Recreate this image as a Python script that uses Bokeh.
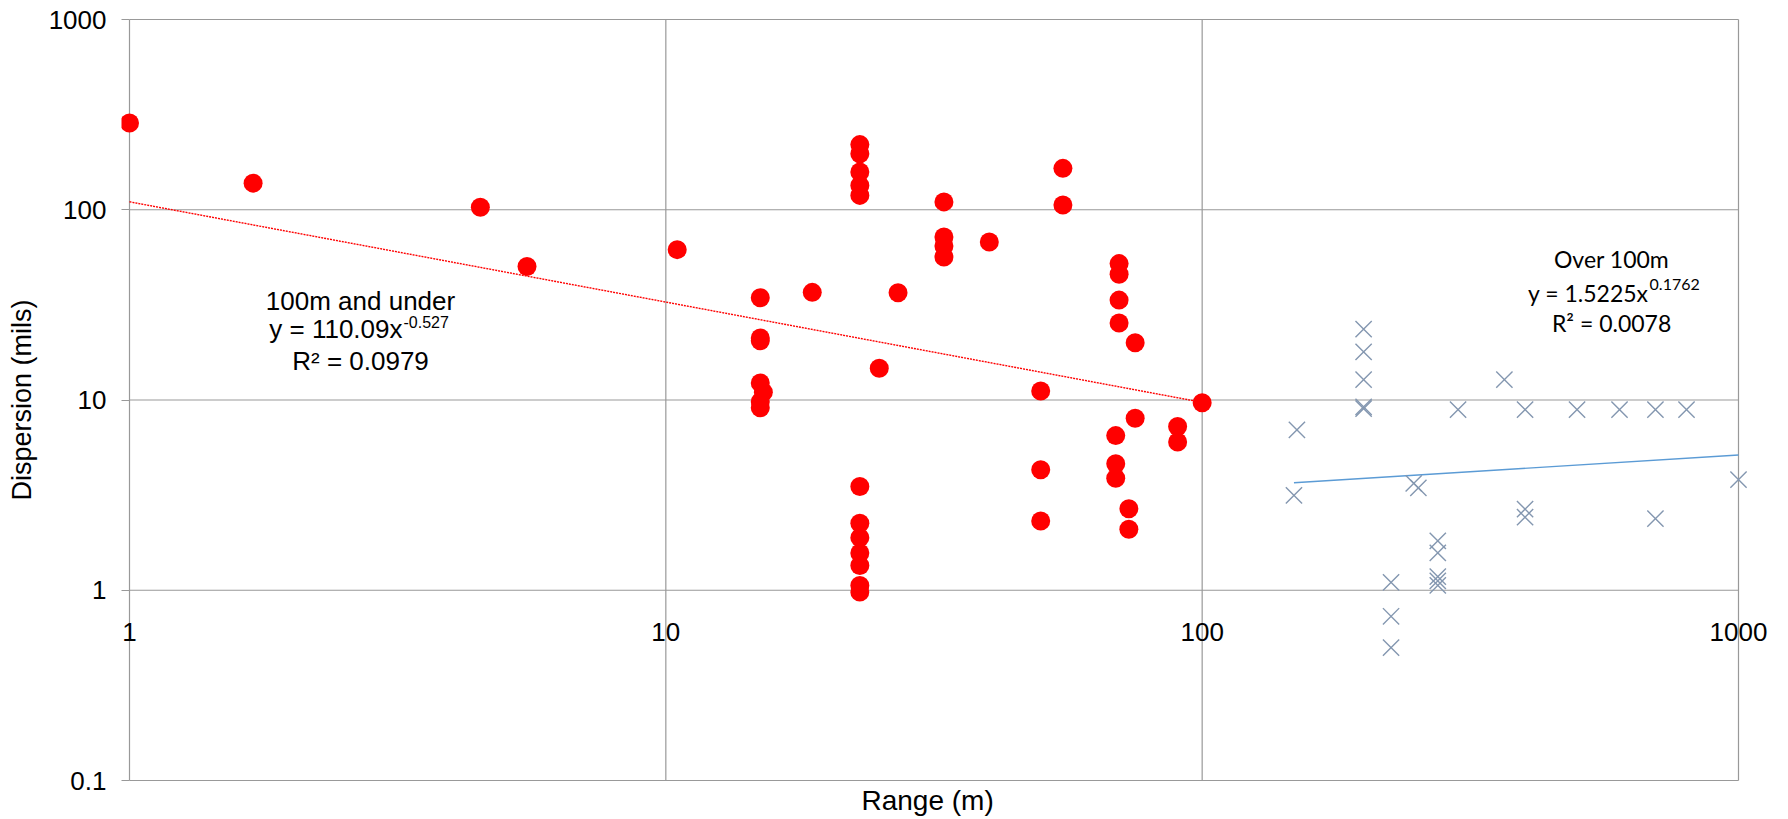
from bokeh.plotting import figure
from bokeh.models import (Range1d, FixedTicker, Label, CustomJSTickFormatter, Title)
from bokeh.embed import file_html
from bokeh.resources import INLINE

# ---------------- data ----------------
red_x = [1, 1.70, 4.51, 5.51, 10.5,
         15, 15, 15, 15, 15.2, 15, 15,
         18.75, 27.1, 25.0,
         23, 23, 23, 23, 23, 23, 23, 23, 23, 23, 23, 23,
         33, 33, 33, 33,
         40.1,
         55, 55,
         50, 50, 50,
         70, 70, 70, 70,
         75, 75,
         69, 69, 69,
         73, 73,
         90, 90,
         100]
red_y = [286, 138, 103, 50.3, 61.7,
         34.5, 21.2, 20.5, 12.3, 11.0, 9.8, 9.1,
         36.8, 36.6, 14.7,
         220, 197, 158, 134, 119, 3.51, 2.25, 1.89, 1.57, 1.35, 1.06, 0.98,
         110, 71.9, 64.5, 56.4,
         67.7,
         165, 106,
         11.15, 4.30, 2.31,
         52.1, 45.8, 33.5, 25.4,
         20.0, 8.01,
         6.50, 4.62, 3.88,
         2.68, 2.09,
         7.25, 6.02,
         9.68]

blue_x = [148.3, 150.2, 200, 200, 200, 200, 200, 225, 225, 225, 248, 253,
          275, 275, 275, 275, 275, 300, 366, 400, 400, 400, 500, 600, 700, 700, 800, 1000]
blue_y = [3.15, 6.96, 23.6, 17.9, 12.8, 9.2, 9.0, 1.10, 0.73, 0.50, 3.65, 3.45,
          1.82, 1.57, 1.18, 1.12, 1.06, 8.9, 12.8, 8.9, 2.67, 2.42, 8.9, 8.9, 8.9, 2.38, 8.9, 3.81]

# trendline coefficients (y = a * x^b) as printed on the chart
red_a, red_b = 110.09, -0.527
blue_a, blue_b = 1.5225, 0.1762

x_ticks = [1, 10, 100, 1000]
x_labels = ["1", "10", "100", "1000"]
y_ticks = [0.1, 1, 10, 100, 1000]
y_labels = ["0.1", "1", "10", "100", "1000"]
x_cross = 1  # the horizontal axis crosses the vertical one at y = 1
x_min, x_max = 1, 1000
y_min, y_max = 0.1, 1000

# ---------------- style ----------------
GRID = "#999999"
RED = "#ff0000"
BLUE_X = "#8497b0"
BLUE_LINE = "#5b9bd5"
FONT = "Liberation Sans"
FONT2 = "Lato"

W, H = 1788, 819
DEC_X, DEC_Y = 536.3, 190.25      # pixels per decade
PAD_L, PAD_R, PAD_TB = 8, 32, 2   # room (px) around the plotted area so edge marks/labels are not cut
FRAME_L = 121 + PAD_L             # pixel position of x = 1
FRAME_T = 17 + PAD_TB             # pixel position of y = 1000


def at_px(px, py):
    return 10 ** ((px - FRAME_L) / DEC_X), 10 ** (3 - (py - FRAME_T) / DEC_Y)


p = figure(width=W, height=H, x_axis_type="log", y_axis_type="log",
           x_range=Range1d(x_min * 10 ** (-PAD_L / DEC_X), x_max * 10 ** (PAD_R / DEC_X)),
           y_range=Range1d(y_min * 10 ** (-PAD_TB / DEC_Y), y_max * 10 ** (PAD_TB / DEC_Y)),
           output_backend="svg", toolbar_location=None,
           min_border_left=121, min_border_right=W - 121 - round((3 * DEC_X) + PAD_L + PAD_R),
           min_border_top=17, min_border_bottom=H - 17 - round(4 * DEC_Y + 2 * PAD_TB))
p.background_fill_color = "white"
p.border_fill_color = "white"
p.outline_line_color = None
p.xgrid.visible = False
p.ygrid.visible = False

# grid lines / plot-area border limited to the 1..1000 x 0.1..1000 box
p.segment(x0=[x_min] * len(y_ticks), x1=[x_max] * len(y_ticks), y0=y_ticks, y1=y_ticks,
          line_color=GRID, line_width=1.2)
p.segment(x0=x_ticks, x1=x_ticks, y0=[y_min] * len(x_ticks), y1=[y_max] * len(x_ticks),
          line_color=GRID, line_width=1.2)

# y axis
p.yaxis.ticker = FixedTicker(ticks=y_ticks)
p.yaxis.formatter = CustomJSTickFormatter(
    args=dict(t=y_ticks, l=y_labels),
    code="""
    for (let i = 0; i < t.length; i++) {
        if (Math.abs(Math.log10(tick) - Math.log10(t[i])) < 1e-6) { return l[i]; }
    }
    return String(tick);
    """)
p.yaxis.major_label_text_font = FONT
p.yaxis.major_label_text_font_size = "26px"
p.yaxis.major_label_text_color = "black"
p.yaxis.major_tick_out = 0
p.yaxis.major_tick_in = PAD_L
p.yaxis.minor_tick_out = 0
p.yaxis.minor_tick_in = 0
p.yaxis.major_tick_line_color = GRID
p.yaxis.major_tick_line_width = 1.2
p.yaxis.axis_line_color = None
p.yaxis.major_label_standoff = 15
p.yaxis.axis_label = "Dispersion (mils)"
p.yaxis.axis_label_text_font = FONT
p.yaxis.axis_label_text_font_size = "27px"
p.yaxis.axis_label_text_font_style = "normal"
p.yaxis.axis_label_text_color = "black"
p.yaxis.axis_label_standoff = 9

# x axis: the horizontal axis crosses at y = 1, so its labels are drawn there
p.xaxis.visible = False
xtitle = Title(text="Range (m)", align="left", text_font=FONT, text_font_size="28px",
               text_font_style="normal", text_color="black", standoff=0, offset=740)
p.add_layout(xtitle, "below")

for xv, lab in zip(x_ticks, x_labels):
    p.add_layout(Label(x=xv, y=x_cross, y_offset=-41.4, text=lab, text_align="center",
                       text_baseline="alphabetic", text_font=FONT, text_font_size="26px",
                       text_color="black"))

# trendlines
rx = [min(red_x), max(red_x)]
bx = [min(blue_x), max(blue_x)]
p.line(rx, [red_a * v ** red_b for v in rx], line_color=RED, line_width=1.4, line_dash="2 1")
p.line(bx, [blue_a * v ** blue_b for v in bx], line_color=BLUE_LINE, line_width=1.4)

# points
p.scatter(red_x, red_y, marker="circle", size=19, fill_color=RED, line_color=None)
p.scatter(blue_x, blue_y, marker="x", size=23, line_color=BLUE_X, line_width=1.4)


def add_label(px, py, text, font, size, align):
    x, y = at_px(px, py)
    p.add_layout(Label(x=x, y=y, text=text, text_font=font, text_font_size=size,
                       text_align=align, text_baseline="alphabetic", text_color="black"))


# left annotation
add_label(360, 300, "100m and under", FONT, "26px", "center")
add_label(402, 328, "y = 110.09x", FONT, "26px", "right")
add_label(403, 321, "-0.527", FONT, "16px", "left")
add_label(360, 360, "R² = 0.0979", FONT, "26px", "center")

# right annotation
add_label(1611, 258, "Over 100m", FONT2, "23px", "center")
add_label(1648, 292, "y = 1.5225x", FONT2, "23px", "right")
add_label(1649, 284, "0.1762", FONT2, "16px", "left")
add_label(1611, 322, "R² = 0.0078", FONT2, "23px", "center")

open("out.html", "w").write(file_html(p, INLINE))
